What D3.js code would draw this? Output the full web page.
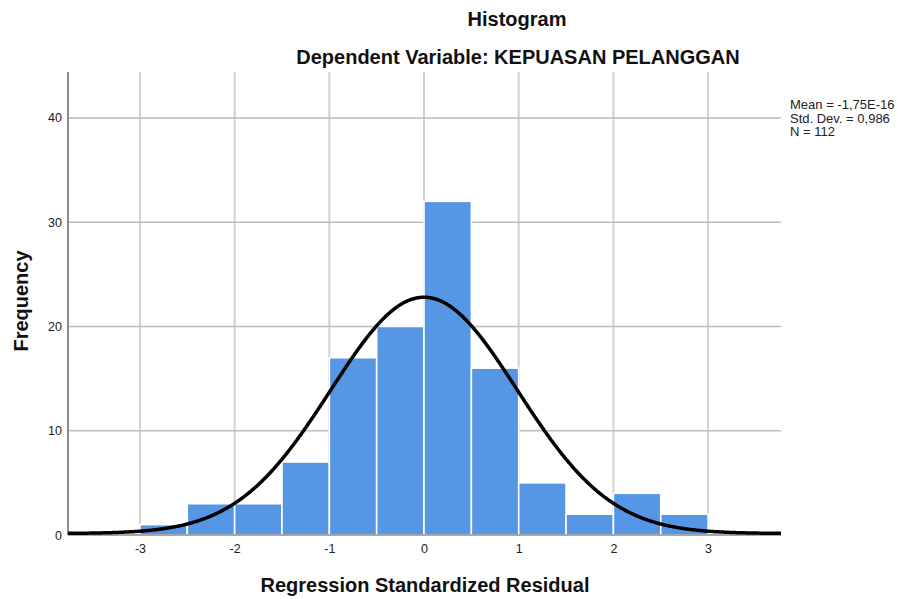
<!DOCTYPE html>
<html>
<head>
<meta charset="utf-8">
<script src="https://cdn.jsdelivr.net/npm/d3@7"></script>
<style>
body{margin:0;background:#fff;}
svg{display:block;font-family:"Liberation Sans",Arial,sans-serif;}
</style>
</head>
<body>
<svg id="chart" width="898" height="599"></svg>
<script>
// Data
const binStarts = [-3, -2.5, -2, -1.5, -1, -0.5, 0, 0.5, 1, 1.5, 2, 2.5];
const binWidth = 0.5;
const frequencies = [1, 3, 3, 7, 17, 20, 32, 16, 5, 2, 4, 2];
const xTicks = [-3, -2, -1, 0, 1, 2, 3];
const yTicks = [0, 10, 20, 30, 40];
const statsLines = ["Mean = -1,75E-16", "Std. Dev. = 0,986", "N = 112"];
const mean = -1.75e-16, sd = 0.986, n = 112;

const svg = d3.select("#chart");
const x = d3.scaleLinear().domain([-3.76, 3.77]).range([68, 781]);
const y = d3.scaleLinear().domain([0, 44.4]).range([535, 72]);

// vertical gridlines
svg.append("g").selectAll("line").data(xTicks).join("line")
  .attr("x1", d => x(d)).attr("x2", d => x(d))
  .attr("y1", y(44.4)).attr("y2", y(0))
  .attr("stroke", "#d2d2d2").attr("stroke-width", 2);
// horizontal gridlines
svg.append("g").selectAll("line").data(yTicks.filter(d => d > 0)).join("line")
  .attr("x1", x(-3.76)).attr("x2", x(3.77))
  .attr("y1", d => y(d)).attr("y2", d => y(d))
  .attr("stroke", "#bdbdbd").attr("stroke-width", 1.5);

// bars
svg.append("g").selectAll("rect").data(frequencies).join("rect")
  .attr("x", (d, i) => x(binStarts[i]))
  .attr("width", (d, i) => x(binStarts[i] + binWidth) - x(binStarts[i]))
  .attr("y", d => y(d))
  .attr("height", d => y(0) - y(d))
  .attr("fill", "#5596e5")
  .attr("stroke", "#ffffff").attr("stroke-width", 1.6);

// axes lines
svg.append("line").attr("x1", x(-3.76)).attr("x2", x(3.77)).attr("y1", y(0)).attr("y2", y(0))
  .attr("stroke", "#8c8c8c").attr("stroke-width", 1.5);
svg.append("line").attr("x1", x(-3.76)).attr("x2", x(-3.76)).attr("y1", y(44.4)).attr("y2", y(0))
  .attr("stroke", "#8c8c8c").attr("stroke-width", 2);

// normal curve
const pdf = v => n * binWidth * Math.exp(-0.5 * ((v - mean) / sd) ** 2) / (sd * Math.sqrt(2 * Math.PI));
const curvePts = d3.range(-3.76, 3.7701, 0.01).map(v => [v, pdf(v)]);
svg.append("path").datum(curvePts)
  .attr("d", d3.line().x(d => x(d[0])).y(d => y(d[1]) - 1.5))
  .attr("fill", "none").attr("stroke", "#000").attr("stroke-width", 3.5);

// tick labels
const xAxis = d3.axisBottom(x).tickValues(xTicks).tickSize(0).tickPadding(9).tickFormat(d => String(d));
const gx = svg.append("g").attr("transform", `translate(0,${y(0)})`).call(xAxis);
gx.select(".domain").remove();
gx.selectAll("text").attr("font-size", 12.5).attr("fill", "#222").attr("font-family", "Liberation Sans, Arial, sans-serif");
const yAxis = d3.axisLeft(y).tickValues(yTicks).tickSize(0).tickPadding(6).tickFormat(d => String(d));
const gy = svg.append("g").attr("transform", `translate(${x(-3.76)},0)`).call(yAxis);
gy.select(".domain").remove();
gy.selectAll("text").attr("font-size", 12.5).attr("fill", "#222").attr("font-family", "Liberation Sans, Arial, sans-serif");

// titles
svg.append("text").attr("x", 517).attr("y", 26).attr("text-anchor", "middle")
  .attr("font-weight", "bold").attr("font-size", 20).attr("fill", "#111").text("Histogram");
svg.append("text").attr("x", 518).attr("y", 64).attr("text-anchor", "middle")
  .attr("font-weight", "bold").attr("font-size", 20).attr("fill", "#111").text("Dependent Variable: KEPUASAN PELANGGAN");
svg.append("text").attr("x", 425).attr("y", 592).attr("text-anchor", "middle")
  .attr("font-weight", "bold").attr("font-size", 20).attr("fill", "#111").text("Regression Standardized Residual");
svg.append("text").attr("transform", "translate(28,301) rotate(-90)").attr("text-anchor", "middle")
  .attr("font-weight", "bold").attr("font-size", 20).attr("fill", "#111").text("Frequency");

// stats
svg.append("g").selectAll("text").data(statsLines).join("text")
  .attr("x", 790).attr("y", (d, i) => 109 + i * 13.5)
  .attr("font-size", 13).attr("fill", "#222").text(d => d);
</script>
</body>
</html>
